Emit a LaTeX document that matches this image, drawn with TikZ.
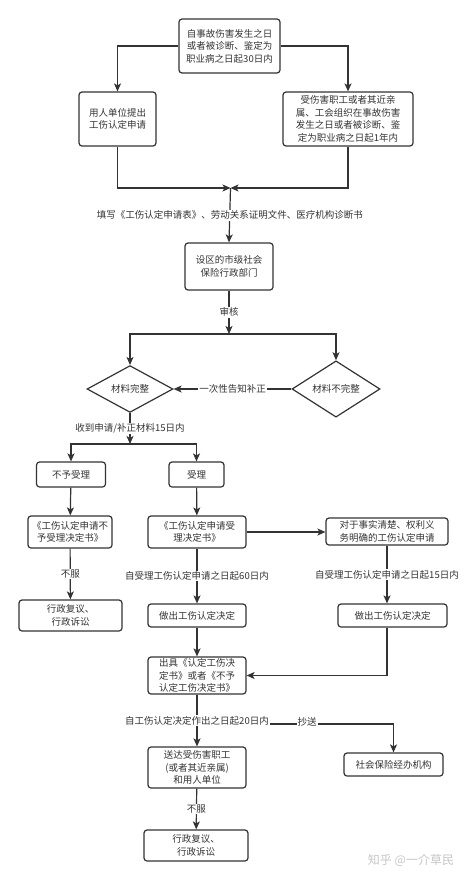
\documentclass[tikz,border=0pt]{standalone}
\usepackage{fontspec}
\setmainfont{Noto Sans CJK SC}
\usetikzlibrary{%
  arrows.meta,%
  shapes.geometric,% wg. diamond
  positioning%
}
\definecolor{linegray}{HTML}{333333}

\begin{document}
\begin{tikzpicture}
[x=1pt, y=-1pt, draw=linegray, line width=1.2pt, >={Stealth[length=8pt,width=7pt,inset=2pt]},
every node/.style={text=linegray, font=\fontsize{9.5}{12.5}\selectfont},
stepbox/.style={rectangle, draw, rounded corners=3pt, align=center, inner sep=1pt},
check/.style={diamond, draw, inner sep=0pt, align=center},
tag/.style={fill=white, inner sep=1pt}]

\useasboundingbox (0,0) rectangle (474,880);

\node[stepbox, minimum width=101pt, minimum height=54pt] (start) at (229.5,46)
  {自事故伤害发生之日\\或者被诊断、鉴定为\\职业病之日起30日内};
\node[stepbox, minimum width=77pt, minimum height=54pt] (employer) at (117.5,119)
  {用人单位提出\\工伤认定申请};
\node[stepbox, minimum width=130pt, minimum height=54pt] (worker) at (348,119)
  {受伤害职工或者其近亲\\属、工会组织在事故伤害\\发生之日或者被诊断、鉴\\定为职业病之日起1年内};
\node[stepbox, minimum width=88pt, minimum height=47pt] (dept) at (229,266.5)
  {设区的市级社会\\保险行政部门};
\node[check, minimum width=86pt, minimum height=42pt] (complete) at (130,389) {材料完整};
\node[check, minimum width=88pt, minimum height=42pt] (incomplete) at (336,389) {材料不完整};
\node[stepbox, minimum width=69pt, minimum height=25pt] (reject) at (71,474.5) {不予受理};
\node[stepbox, minimum width=55pt, minimum height=25pt] (accept) at (196.5,474.5) {受理};
\node[stepbox, minimum width=84pt, minimum height=32pt] (rejectdoc) at (70,532)
  {《工伤认定申请不\\予受理决定书》};
\node[stepbox, minimum width=98pt, minimum height=32pt] (acceptdoc) at (197,532)
  {《工伤认定申请受\\理决定书》};
\node[stepbox, minimum width=122pt, minimum height=27pt] (simple) at (387,531.5)
  {对于事实清楚、权利义\\务明确的工伤认定申请};
\node[stepbox, minimum width=103pt, minimum height=31pt] (review1) at (70.5,615.5)
  {行政复议、\\行政诉讼};
\node[stepbox, minimum width=98pt, minimum height=23pt] (decide) at (197,615.5) {做出工伤认定决定};
\node[stepbox, minimum width=109pt, minimum height=23pt] (decide2) at (392.5,615.5) {做出工伤认定决定};
\node[stepbox, minimum width=98pt, minimum height=37pt] (issue) at (197,675.5)
  {出具《认定工伤决\\定书》或者《不予\\认定工伤决定书》};
\node[stepbox, minimum width=98pt, minimum height=41pt] (deliver) at (197,767.5)
  {送达受伤害职工\\(或者其近亲属)\\和用人单位};
\node[stepbox, minimum width=99pt, minimum height=23pt] (agency) at (393.5,764.5) {社会保险经办机构};
\node[stepbox, minimum width=104pt, minimum height=31pt] (review2) at (196,845.5)
  {行政复议、\\行政诉讼};

\coordinate (merge) at (230.5,188);
\coordinate (split1) at (229,334);
\coordinate (split2) at (130,444);
\coordinate (copy) at (197,724);

% application
\draw[->] (start.west) -| (employer.north);
\draw[->] (start.east) -| (worker.north);
\draw[->] (employer.south) |- (merge);
\draw[->] (worker.south) |- (merge);
\draw[->] (merge) -- (dept.north)
  node[tag, midway] {填写《工伤认定申请表》、劳动关系证明文件、医疗机构诊断书};
\draw[->] (dept.south) -- (split1) node[tag, midway] {审核};
\draw[->] (split1) -| (complete.north);
\draw[->] (split1) -| (incomplete.north);
\draw[->] (incomplete.west) -- (complete.east) node[tag, midway] {一次性告知补正};

% acceptance
\draw[->] (complete.south) -- (split2) node[tag, midway] {收到申请/补正材料15日内};
\draw[->] (split2) -| (reject.north);
\draw[->] (split2) -| (accept.north);
\draw[->] (reject) -- (rejectdoc);
\draw[->] (rejectdoc) -- (review1) node[tag, midway] {不服};
\draw[->] (accept) -- (acceptdoc);
\draw[->] (acceptdoc.east) -- (acceptdoc.east -| simple.west);
\draw[->] (acceptdoc) -- (decide) node[tag, midway] {自受理工伤认定申请之日起60日内};
\draw[->] (simple.south) -- (simple.south |- decide2.north)
  node[tag, midway] {自受理工伤认定申请之日起15日内};

% decision
\draw[->] (decide) -- (issue);
\draw[->] (simple.south |- decide2.south) |- (issue.east);
\draw[->] (copy) -| (agency.north) node[tag, pos=0.28, yshift=2pt] {抄送};
\draw[->] (issue) -- (deliver) node[tag, midway] {自工伤认定决定作出之日起20日内};
\draw[->] (deliver) -- (review2) node[tag, midway] {不服};

\node[text=gray!45, font=\fontsize{12}{14}\selectfont] (mark) at (411,860) {知乎 @一介草民};
\end{tikzpicture}
\end{document}
